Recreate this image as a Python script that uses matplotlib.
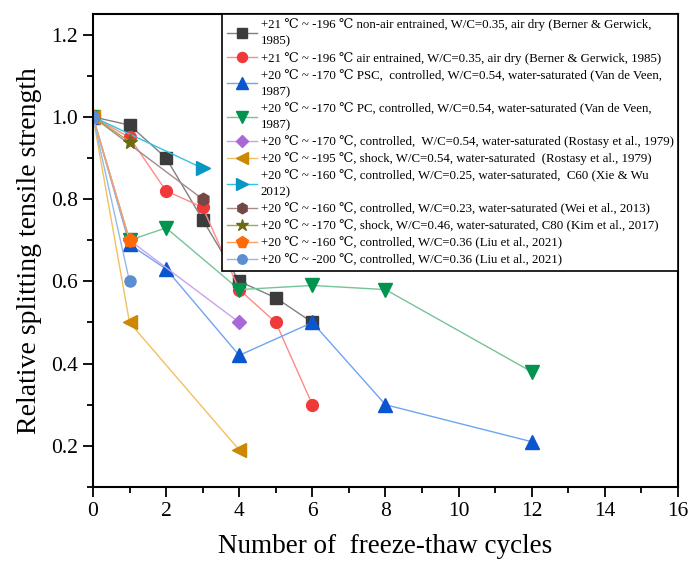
import numpy as np
import matplotlib
matplotlib.use("Agg")
import matplotlib.pyplot as plt
from matplotlib.ticker import MultipleLocator

plt.rcParams['font.family'] = ['Liberation Serif', 'DejaVu Serif']

# freeze-thaw test series: cycles and relative splitting tensile strength
x_berner_nae = [0, 1, 2, 3, 4, 5, 6]
y_berner_nae = [1.0, 0.98, 0.90, 0.75, 0.60, 0.56, 0.50]
x_berner_ae = [0, 1, 2, 3, 4, 5, 6]
y_berner_ae = [1.0, 0.95, 0.82, 0.78, 0.58, 0.50, 0.30]
x_veen_psc = [0, 1, 2, 4, 6, 8, 12]
y_veen_psc = [1.0, 0.69, 0.63, 0.42, 0.50, 0.30, 0.21]
x_veen_pc = [0, 1, 2, 4, 6, 8, 12]
y_veen_pc = [1.0, 0.70, 0.73, 0.58, 0.59, 0.58, 0.38]
x_rostasy_c = [0, 1, 4]
y_rostasy_c = [1.0, 0.70, 0.50]
x_rostasy_s = [0, 1, 4]
y_rostasy_s = [1.0, 0.50, 0.19]
x_xie = [0, 3]
y_xie = [1.0, 0.875]
x_wei = [0, 3]
y_wei = [1.0, 0.80]
x_kim = [0, 1]
y_kim = [1.0, 0.94]
x_liu160 = [0, 1]
y_liu160 = [1.0, 0.70]
x_liu200 = [0, 1]
y_liu200 = [1.0, 0.60]

labels = [
    "+21 ℃ ~ -196 ℃ non-air entrained, W/C=0.35, air dry (Berner & Gerwick,\n1985)",
    "+21 ℃ ~ -196 ℃ air entrained, W/C=0.35, air dry (Berner & Gerwick, 1985)",
    "+20 ℃ ~ -170 ℃ PSC,  controlled, W/C=0.54, water-saturated (Van de Veen,\n1987)",
    "+20 ℃ ~ -170 ℃ PC, controlled, W/C=0.54, water-saturated (Van de Veen,\n1987)",
    "+20 ℃ ~ -170 ℃, controlled,  W/C=0.54, water-saturated (Rostasy et al., 1979)",
    "+20 ℃ ~ -195 ℃, shock, W/C=0.54, water-saturated  (Rostasy et al., 1979)",
    "+20 ℃ ~ -160 ℃, controlled, W/C=0.25, water-saturated,  C60 (Xie & Wu\n2012)",
    "+20 ℃ ~ -160 ℃, controlled, W/C=0.23, water-saturated (Wei et al., 2013)",
    "+20 ℃ ~ -170 ℃, shock, W/C=0.46, water-saturated, C80 (Kim et al., 2017)",
    "+20 ℃ ~ -160 ℃, controlled, W/C=0.36 (Liu et al., 2021)",
    "+20 ℃ ~ -200 ℃, controlled, W/C=0.36 (Liu et al., 2021)",
]

# marker, marker colour, line colour, marker size
series = [
    (x_berner_nae, y_berner_nae, 's', '#3c3c3c', '#808080', 8),
    (x_berner_ae, y_berner_ae, 'o', '#f03a3a', '#ff8a8a', 8.5),
    (x_veen_psc, y_veen_psc, '^', '#0a55d0', '#70a4f0', 9.5),
    (x_veen_pc, y_veen_pc, 'v', '#00944e', '#74c496', 9.5),
    (x_rostasy_c, y_rostasy_c, 'D', '#a868d6', '#c9a2ee', 7.5),
    (x_rostasy_s, y_rostasy_s, '<', '#cc8800', '#f2c060', 9.5),
    (x_xie, y_xie, '>', '#0a96c4', '#2ec4e0', 9.5),
    (x_wei, y_wei, 'h', '#754746', '#a88a8a', 9),
    (x_kim, y_kim, '*', '#6e6a10', '#a8a448', 11),
    (x_liu160, y_liu160, 'p', '#ff6a08', '#ffa060', 10),
    (x_liu200, y_liu200, 'o', '#5b8fd2', '#94baea', 8),
]

fig = plt.figure(figsize=(6.99, 5.62), dpi=100)
ax = fig.add_axes([0.133, 0.1335, 0.837, 0.8415])

for (xs, ys, m, mc, lc, ms), lab in zip(series, labels):
    ax.plot(xs, ys, color=lc, lw=1.0, marker=m, markersize=ms,
            markerfacecolor=mc, markeredgecolor=mc, label=lab)

ax.set_xlim(0, 16)
ax.set_ylim(0.1, 1.25)
ax.xaxis.set_major_locator(MultipleLocator(2))
ax.xaxis.set_minor_locator(MultipleLocator(1))
ax.yaxis.set_minor_locator(MultipleLocator(0.1))
ax.set_yticks([0.2, 0.4, 0.6, 0.8, 1.0, 1.2])
ax.tick_params(which='major', direction='out', length=7, width=1.3, labelsize=15.5, pad=4)
ax.tick_params(which='minor', direction='out', length=4, width=1.3)
for s in ax.spines.values():
    s.set_linewidth(1.5)

ax.set_xlabel("Number of  freeze-thaw cycles", fontsize=19.5, labelpad=9)
ax.set_ylabel("Relative splitting tensile strength", fontsize=20, labelpad=6)

leg = ax.legend(loc='upper right', borderaxespad=0, fontsize=9.3, frameon=True,
                fancybox=False, edgecolor='black', framealpha=1,
                handlelength=2.3, handletextpad=0.3, labelspacing=0.34,
                borderpad=0.35, markerscale=0.85)
leg.get_frame().set_linewidth(1.2)
for t in leg.get_texts():
    t.set_linespacing(1.45)

fig.savefig("out.png", dpi=100)
